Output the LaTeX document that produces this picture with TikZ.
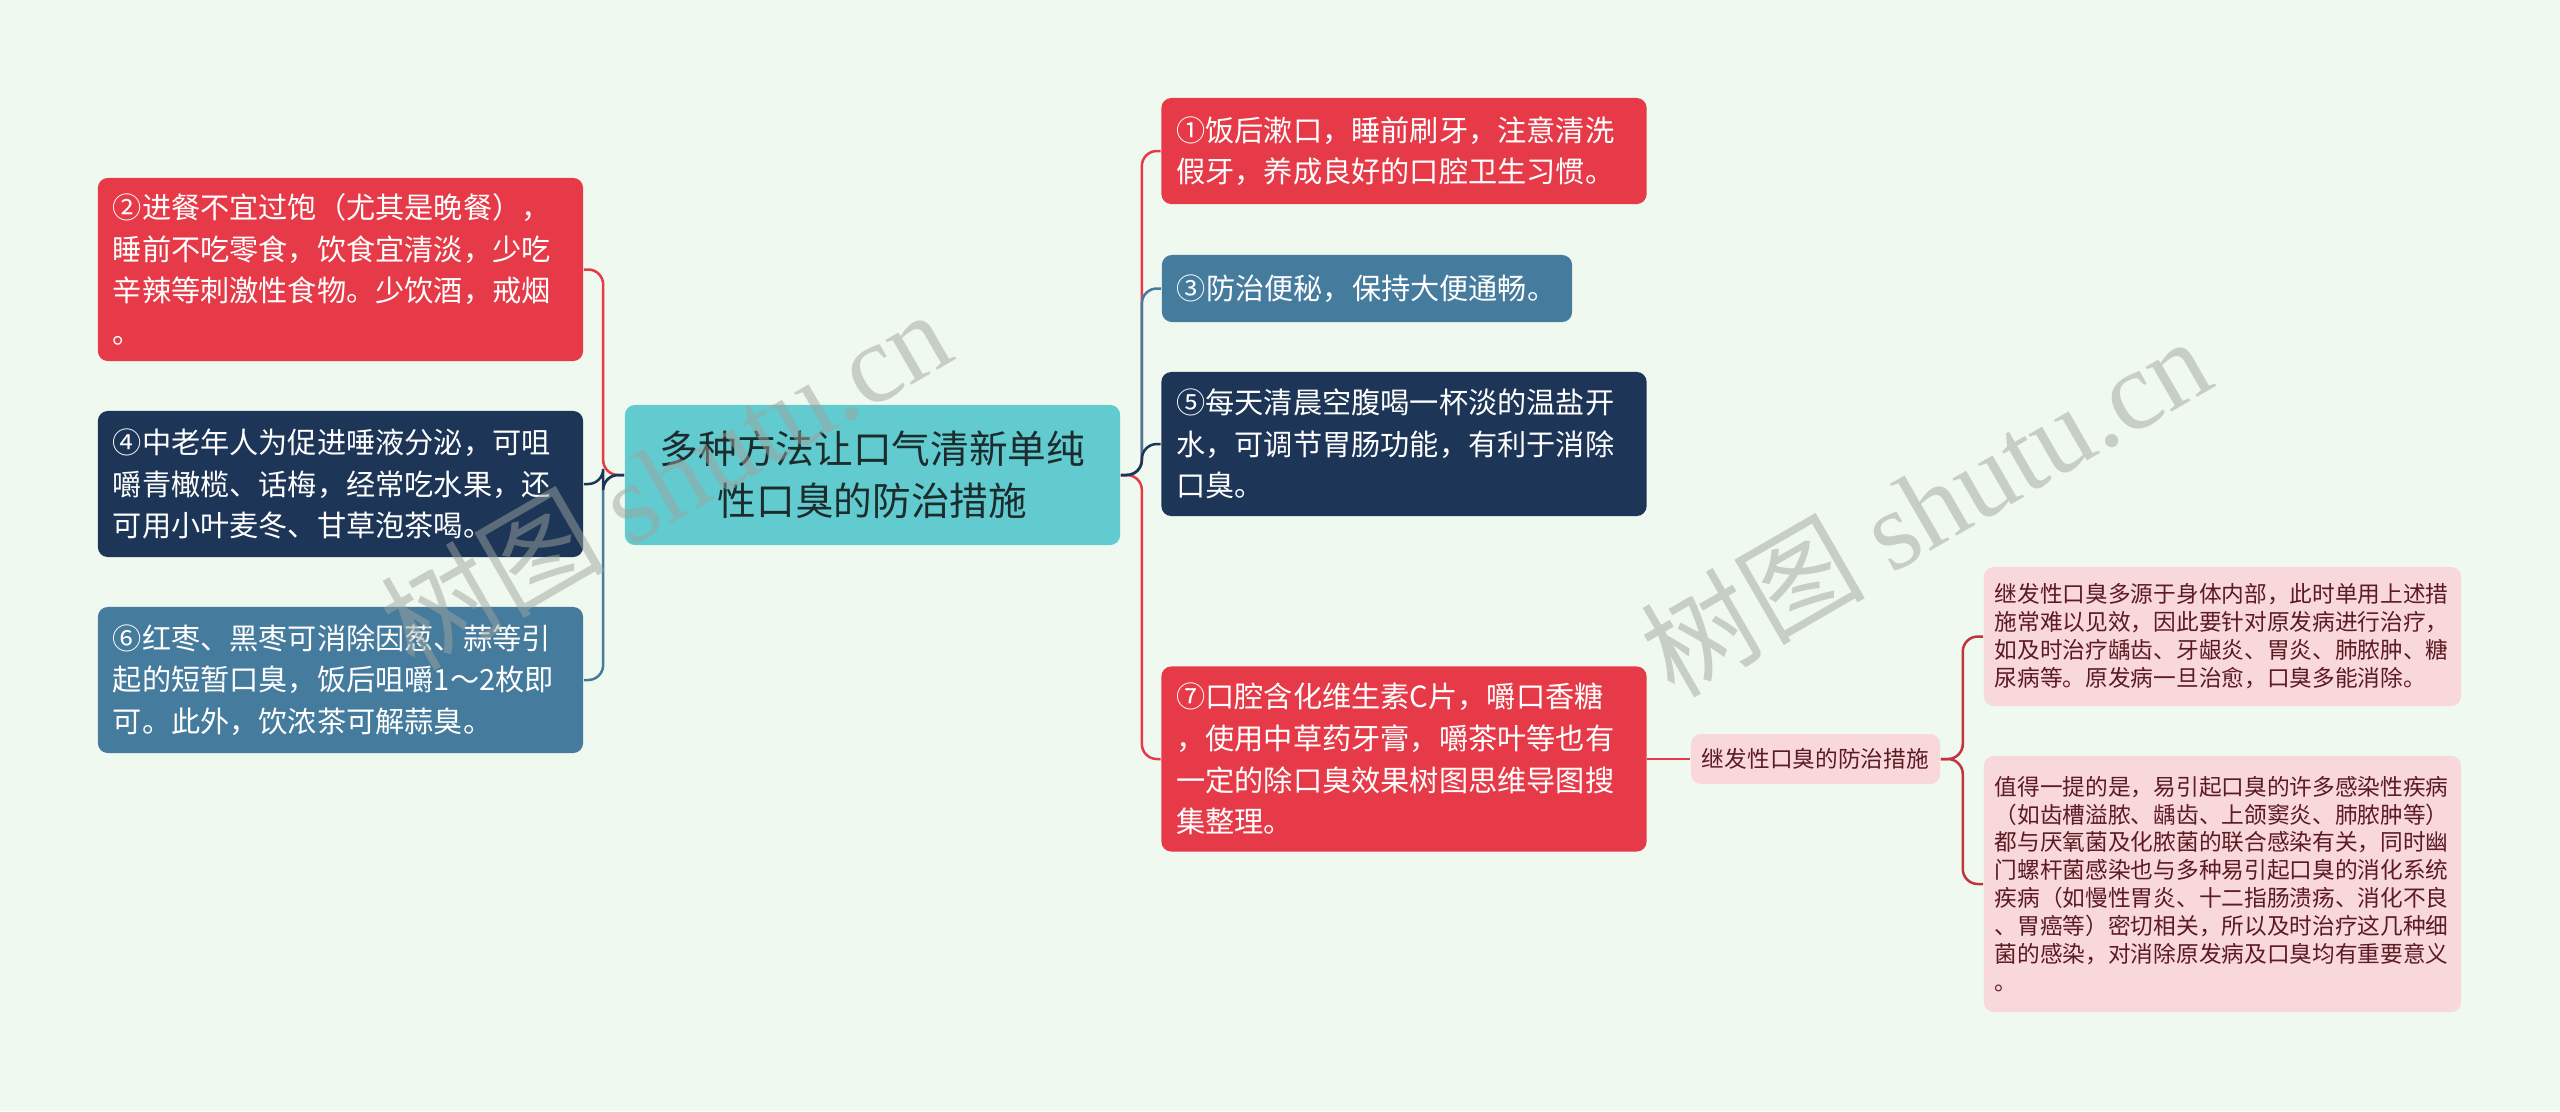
\documentclass[tikz,border=0pt]{standalone}
\usepackage{fontspec}
\newfontfamily\cjk{Noto Sans CJK SC}
\newfontfamily\wmserif{Liberation Serif}
\usetikzlibrary{positioning}

\definecolor{bgmint}{HTML}{F0F9EF}
\definecolor{boxred}{HTML}{E63A48}
\definecolor{boxnavy}{HTML}{1D3557}
\definecolor{boxsteel}{HTML}{457B9D}
\definecolor{rootteal}{HTML}{62CBCF}
\definecolor{roottext}{HTML}{1C2B2C}
\definecolor{subpink}{HTML}{F9D8DC}
\definecolor{subtext}{HTML}{5C1A22}
\definecolor{subline}{HTML}{C1343F}
\definecolor{wmgray}{HTML}{9EA49E}

\begin{document}
\begin{tikzpicture}[x=0.01cm, y=-0.01cm,
  tip/.style={rounded corners=0.1cm, inner xsep=0.15cm, inner ysep=0.08cm,
    align=left, text width=4.55cm, text=white,
    font=\cjk\fontsize{8.3pt}{11.85pt}\selectfont},
  redtip/.style={tip, fill=boxred},
  navytip/.style={tip, fill=boxnavy},
  steeltip/.style={tip, fill=boxsteel},
  roottip/.style={rounded corners=0.1cm, fill=rootteal, text=roottext, align=center,
    minimum width=4.95cm, minimum height=1.4cm,
    font=\cjk\fontsize{11pt}{14.8pt}\selectfont},
  subtip/.style={rounded corners=0.1cm, fill=subpink, text=subtext, inner xsep=0.11cm,
    inner ysep=0.06cm, align=left, text width=4.55cm,
    font=\cjk\fontsize{6.45pt}{7.95pt}\selectfont},
  link/.style={line width=0.025cm, rounded corners=0.15cm},
  wmtext/.style={text=wmgray, opacity=0.5, rotate=30,
    font=\cjk\fontsize{32pt}{32pt}\selectfont}]

  \fill[bgmint] (0,0) rectangle (2560,1111);
  \useasboundingbox (0,0) rectangle (2560,1111);

  \node[roottip] (root) at (872.5,475) {多种方法让口气清新单纯\\性口臭的防治措施};

  \node[redtip, minimum height=1.83cm] (l1) at (340.5,269.5)
    {②进餐不宜过饱（尤其是晚餐），\\睡前不吃零食，饮食宜清淡，少吃\\辛辣等刺激性食物。少饮酒，戒烟\\。};
  \node[navytip, minimum height=1.46cm] (l2) at (340.5,484)
    {④中老年人为促进唾液分泌，可咀\\嚼青橄榄、话梅，经常吃水果，还\\可用小叶麦冬、甘草泡茶喝。};
  \node[steeltip, minimum height=1.46cm] (l3) at (340.5,680)
    {⑥红枣、黑枣可消除因葱、蒜等引\\起的短暂口臭，饭后咀嚼1～2枚即\\可。此外，饮浓茶可解蒜臭。};

  \node[redtip, minimum height=1.06cm] (r1) at (1404,151)
    {①饭后漱口，睡前刷牙，注意清洗\\假牙，养成良好的口腔卫生习惯。};
  \node[steeltip, text width=3.8cm, minimum height=0.67cm] (r2) at (1367,288.5)
    {③防治便秘，保持大便通畅。};
  \node[navytip, minimum height=1.44cm] (r3) at (1404,444)
    {⑤每天清晨空腹喝一杯淡的温盐开\\水，可调节胃肠功能，有利于消除\\口臭。};
  \node[redtip, minimum height=1.85cm] (r4) at (1404,759)
    {⑦口腔含化维生素C片，嚼口香糖\\，使用中草药牙膏，嚼茶叶等也有\\一定的除口臭效果树图思维导图搜\\集整理。};

  \node[subtip, text width=2.27cm, minimum height=0.5cm] (sub) at (1815.5,759)
    {继发性口臭的防治措施};

  \node[subtip, minimum height=1.39cm] (s1) at (2222.5,636.5)
    {继发性口臭多源于身体内部，此时单用上述措\\施常难以见效，因此要针对原发病进行治疗，\\如及时治疗龋齿、牙龈炎、胃炎、肺脓肿、糖\\尿病等。原发病一旦治愈，口臭多能消除。};
  \node[subtip, minimum height=2.56cm] (s2) at (2222.5,884)
    {值得一提的是，易引起口臭的许多感染性疾病\\（如齿槽溢脓、龋齿、上颌窦炎、肺脓肿等）\\都与厌氧菌及化脓菌的联合感染有关，同时幽\\门螺杆菌感染也与多种易引起口臭的消化系统\\疾病（如慢性胃炎、十二指肠溃疡、消化不良\\、胃癌等）密切相关，所以及时治疗这几种细\\菌的感染，对消除原发病及口臭均有重要意义\\。};

  \draw[boxred, link] (root.west) -- ++(-21,0) |- (l1.east);
  \draw[boxsteel, link] (root.west) -- ++(-21,0) |- (l3.east);
  \draw[boxnavy, link] (root.west) -- ++(-21,0) |- (l2.east);

  \draw[boxred, link] (root.east) -- ++(21,0) |- (r1.west);
  \draw[boxsteel, link] (root.east) -- ++(21,0) |- (r2.west);
  \draw[boxred, link] (root.east) -- ++(21,0) |- (r4.west);
  \draw[boxnavy, link] (root.east) -- ++(21,0) |- (r3.west);

  \draw[boxred, link] (r4.east) -- (sub.west);
  \draw[subline, link] (sub.east) -- ++(22,0) |- (s1.west);
  \draw[subline, link] (sub.east) -- ++(22,0) |- (s2.west);

  \node[wmtext] (wm1) at (665,478) {树图 {\wmserif shutu.cn}};
  \node[wmtext] (wm2) at (1925,505) {树图 {\wmserif shutu.cn}};

\end{tikzpicture}
\end{document}
